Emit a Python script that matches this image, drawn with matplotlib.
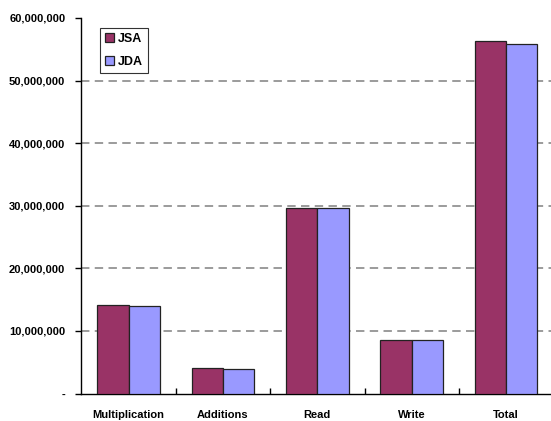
"""
JSA / JDA 运算量对比柱状图
"""
import numpy as np
import matplotlib
matplotlib.use("Agg")
import matplotlib.pyplot as plt
from matplotlib.ticker import FuncFormatter

categories = ["Multiplication", "Additions", "Read", "Write", "Total"]
jsa = [14_200_000, 4_030_000, 29_600_000, 8_600_000, 56_300_000]
jda = [14_000_000, 3_870_000, 29_600_000, 8_600_000, 55_900_000]
yticks = [0, 10_000_000, 20_000_000, 30_000_000, 40_000_000, 50_000_000, 60_000_000]

plt.rcParams['font.family'] = ['Liberation Sans', 'DejaVu Sans']
plt.rcParams['font.weight'] = 'bold'

fig = plt.figure(figsize=(5.51, 4.21), dpi=100)
ax = fig.add_axes([0.1476, 0.0653, 0.8566, 0.892])

x = np.arange(len(categories))
w = 0.332
ax.bar(x - w / 2, jsa, w, color="#993366", edgecolor="#222222", linewidth=0.9, label="JSA", zorder=3)
ax.bar(x + w / 2, jda, w, color="#9999FF", edgecolor="#222222", linewidth=0.9, label="JDA", zorder=3)

ax.set_xlim(-0.5, len(categories) - 0.5)
ax.set_ylim(0, 60_000_000)
ax.set_yticks(yticks)
ax.yaxis.set_major_formatter(FuncFormatter(lambda v, p: "-" if v == 0 else f"{int(v):,}"))
ax.tick_params(axis="y", direction="out", length=4, width=1, pad=7.5, labelsize=8)

ax.set_xticks(x)
ax.set_xticklabels(categories, fontsize=8, fontweight="bold")
ax.set_xticks(np.arange(0.5, len(categories) - 0.5, 1), minor=True)
ax.tick_params(axis="x", which="major", length=0, pad=12)
ax.tick_params(axis="x", which="minor", direction="in", length=4, width=1)

for v in yticks[1:-1]:
    ax.axhline(v, color="#808080", linewidth=1.1, linestyle=(0, (5.5, 3.5)), zorder=1)

for s in ["top", "right"]:
    ax.spines[s].set_visible(False)
for s in ["left", "bottom"]:
    ax.spines[s].set_linewidth(1)
    ax.spines[s].set_color("black")

leg = ax.legend(loc="upper left", bbox_to_anchor=(0.04, 0.973), fontsize=9,
                frameon=True, fancybox=False, edgecolor="black", handlelength=0.7,
                handleheight=0.7, handletextpad=0.35, borderpad=0.4, labelspacing=0.85,
                borderaxespad=0)
leg.get_frame().set_linewidth(0.8)
for t in leg.get_texts():
    t.set_fontweight("bold")

plt.savefig("out.png", dpi=100)
plt.close()
